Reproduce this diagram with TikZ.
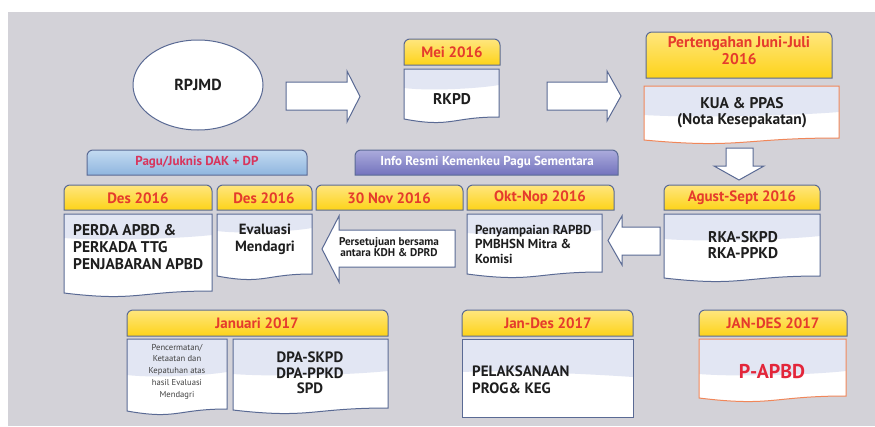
\documentclass[tikz,border=0pt]{standalone}
\usepackage{fontspec}
\setmainfont{PT Sans}
\usetikzlibrary{shapes.geometric}

\definecolor{bggray}{HTML}{D3D2D8}
\definecolor{boxline}{HTML}{5A6A94}
\definecolor{lavender}{HTML}{E2E6F3}
\definecolor{tabtop}{HTML}{FFE67E}
\definecolor{tabbot}{HTML}{FDD319}
\definecolor{tabred}{HTML}{E53B2C}
\definecolor{orangeline}{HTML}{F0875A}
\definecolor{pagutop}{HTML}{C3DBF1}
\definecolor{pagubot}{HTML}{8FB5DF}
\definecolor{pagured}{HTML}{D8345C}
\definecolor{infotop}{HTML}{ABABDC}
\definecolor{infobot}{HTML}{7373BD}
\definecolor{apbdred}{HTML}{E3263A}
\definecolor{ink}{HTML}{1E1E1E}

% tab with rounded top corners
\newcommand{\tabshape}[5][tabyellow]{%
  \draw[#1] (#2,#5) [rounded corners=6pt] -- (#2,#3) -- (#4,#3) [sharp corners] -- (#4,#5) -- cycle;}

% document box: light top part, wavy bottom
\newcommand{\docbox}[6][boxline]{%
  \pgfmathsetmacro{\xm}{(#2+#4)/2}
  \pgfmathsetmacro{\wq}{(#4-#2)*0.25}
  \fill[white] (#2,#3) -- (#4,#3) -- (#4,#5-5) .. controls (\xm,#5-5) and (\xm,#5+6) .. (#2,#5-3) -- cycle;
  \fill[lavender] (#2,#3) -- (#4,#3) -- (#4,#3+#6-3) .. controls (\xm+\wq,#3+#6+1) and (\xm-\wq,#3+#6+3) .. (#2,#3+#6) -- cycle;
  \draw[draw=#1, line width=1pt] (#2,#3) -- (#4,#3) -- (#4,#5-5) .. controls (\xm,#5-5) and (\xm,#5+6) .. (#2,#5-3) -- cycle;}

\begin{document}
\begin{tikzpicture}[x=1pt, y=-1pt,
  tabyellow/.style={draw=boxline, line width=1pt, top color=tabtop, middle color=tabbot, bottom color=tabbot},
  tabblue/.style={draw=boxline, line width=1pt, top color=pagutop, bottom color=pagubot},
  tabpurple/.style={draw=boxline, line width=1pt, top color=infotop, bottom color=infobot},
  tabtext/.style={inner sep=0pt, text=tabred, align=center, font=\bfseries\fontsize{15}{17}\selectfont},
  boxtext/.style={inner sep=0pt, text=ink, align=center, font=\bfseries\fontsize{15.5}{16.7}\selectfont},
  bigarrow/.style={draw=boxline, fill=white, line width=1pt, line join=miter}]

\useasboundingbox (0,0) rectangle (875,426);
\fill[bggray] (8,12) rectangle (875,426);

% date tabs
\foreach \xa/\ya/\xb/\yb in {404/39/500/65, 646/32/832/78, 64/185/212/210, 217/185/312/210,
    316/185/463/210, 467/185/614/210, 664/185/820/210, 127/310/388/336, 462/310/633/336, 699/310/847/336}
  \tabshape{\xa}{\ya}{\xb}{\yb};
\tabshape[tabblue]{87}{150}{307}{175}
\tabshape[tabpurple]{355}{150}{618}{175}

% boxes
\foreach \xa/\ya/\xb/\yb/\d in {404/69/499/122/19, 64/214/212/296/24, 217/214/312/279/17,
    467/214/602/277/19, 664/214/820/281/25, 127/339/227/414/36, 233/339/388/413/35}
  \docbox{\xa}{\ya}{\xb}{\yb}{\d};
\docbox[orangeline]{644}{86}{839}{143}{29}
\docbox[orangeline]{699}{339}{846}{401}{35}
\fill[white] (462,339) rectangle (633,417);
\fill[lavender] (462,339) -- (633,339) -- (633,377) .. controls (590,374) and (505,370) .. (462,372) -- cycle;
\draw[boxline, line width=1pt] (462,339) rectangle (633,417);

% block arrows
\draw[bigarrow] (286,82) -- (347,82) -- (347,71) -- (360,96.5) -- (347,122) -- (347,110) -- (286,110) -- cycle;
\draw[bigarrow] (547,82) -- (607,82) -- (607,71) -- (621,96) -- (607,121) -- (607,110) -- (547,110) -- cycle;
\draw[bigarrow] (726,148) -- (753,148) -- (753,166) -- (764,166) -- (739,180) -- (714,166) -- (726,166) -- cycle;
\draw[bigarrow] (455,230) -- (339,230) -- (339,216) -- (322,249) -- (339,282) -- (339,267) -- (455,267) -- cycle;
\draw[bigarrow] (660,227) -- (622,227) -- (622,216) -- (608,240.5) -- (622,265) -- (622,255) -- (660,255) -- cycle;

% first row
\node[ellipse, draw=boxline, fill=white, line width=1pt, minimum width=130pt, minimum height=90pt,
  inner sep=0pt, font=\bfseries\fontsize{16}{18}\selectfont, text=ink] (rpjmd) at (198,85) {RPJMD};
\node[tabtext] (mei) at (452,52) {Mei 2016};
\node[boxtext] (rkpd) at (452,99) {RKPD};
\node[tabtext, font=\bfseries\fontsize{15.5}{17}\selectfont] (juni) at (739,51) {Pertengahan Juni-Juli\\2016};
\node[boxtext, font=\bfseries\fontsize{15.5}{16}\selectfont] (kua) at (742,113) {KUA \& PPAS\\(Nota Kesepakatan)};

% info bars
\node[inner sep=0pt, text=pagured, font=\bfseries\fontsize{13}{14}\selectfont] (pagu) at (197,162) {Pagu/Juknis DAK + DP};
\node[inner sep=0pt, text=white, font=\bfseries\fontsize{13}{14}\selectfont] (info) at (487,162) {Info Resmi Kemenkeu Pagu Sementara};

% second row
\node[tabtext] (des1) at (138,198) {Des 2016};
\node[tabtext] (des2) at (264,198) {Des 2016};
\node[tabtext] (nov) at (389,198) {30 Nov 2016};
\node[tabtext] (okt) at (540,198) {Okt-Nop 2016};
\node[tabtext] (agu) at (742,198) {Agust-Sept 2016};
\node[boxtext, anchor=west, align=left] (perda) at (73,247) {PERDA APBD \&\\PERKADA TTG\\PENJABARAN APBD};
\node[boxtext, font=\bfseries\fontsize{14.8}{16.7}\selectfont] (eval) at (265,239) {Evaluasi\\Mendagri};
\node[boxtext, font=\bfseries\fontsize{11.2}{10.5}\selectfont] (setuju) at (389,247) {Persetujuan bersama\\antara KDH \& DPRD};
\node[boxtext, anchor=west, align=left, font=\bfseries\fontsize{13}{14.5}\selectfont] (rapbd) at (475,244) {Penyampaian RAPBD\\PMBHSN Mitra \&\\Komisi};
\node[boxtext, font=\bfseries\fontsize{15.5}{16}\selectfont] (rka) at (743,245) {RKA-SKPD\\RKA-PPKD};

% third row
\node[tabtext] (jan) at (257,323) {Januari 2017};
\node[tabtext] (jandes) at (548,323) {Jan-Des 2017};
\node[tabtext] (jandesb) at (773,323) {JAN-DES 2017};
\node[inner sep=0pt, align=center, text=ink!85, font=\fontsize{8.6}{11.8}\selectfont] (cermat) at (177,371.5)
  {Pencermatan/\\Ketaatan dan\\Kepatuhan atas\\hasil Evaluasi\\Mendagri};
\node[boxtext, font=\bfseries\fontsize{15}{15.5}\selectfont] (dpa) at (310,373) {DPA-SKPD\\DPA-PPKD\\SPD};
\node[boxtext, anchor=west, align=left, font=\bfseries\fontsize{15}{17}\selectfont] (prog) at (472,380) {PELAKSANAAN\\PROG\& KEG};
\node[inner sep=0pt, text=apbdred, font=\bfseries\fontsize{20}{22}\selectfont] (papbd) at (772,372) {P-APBD};
\end{tikzpicture}
\end{document}
